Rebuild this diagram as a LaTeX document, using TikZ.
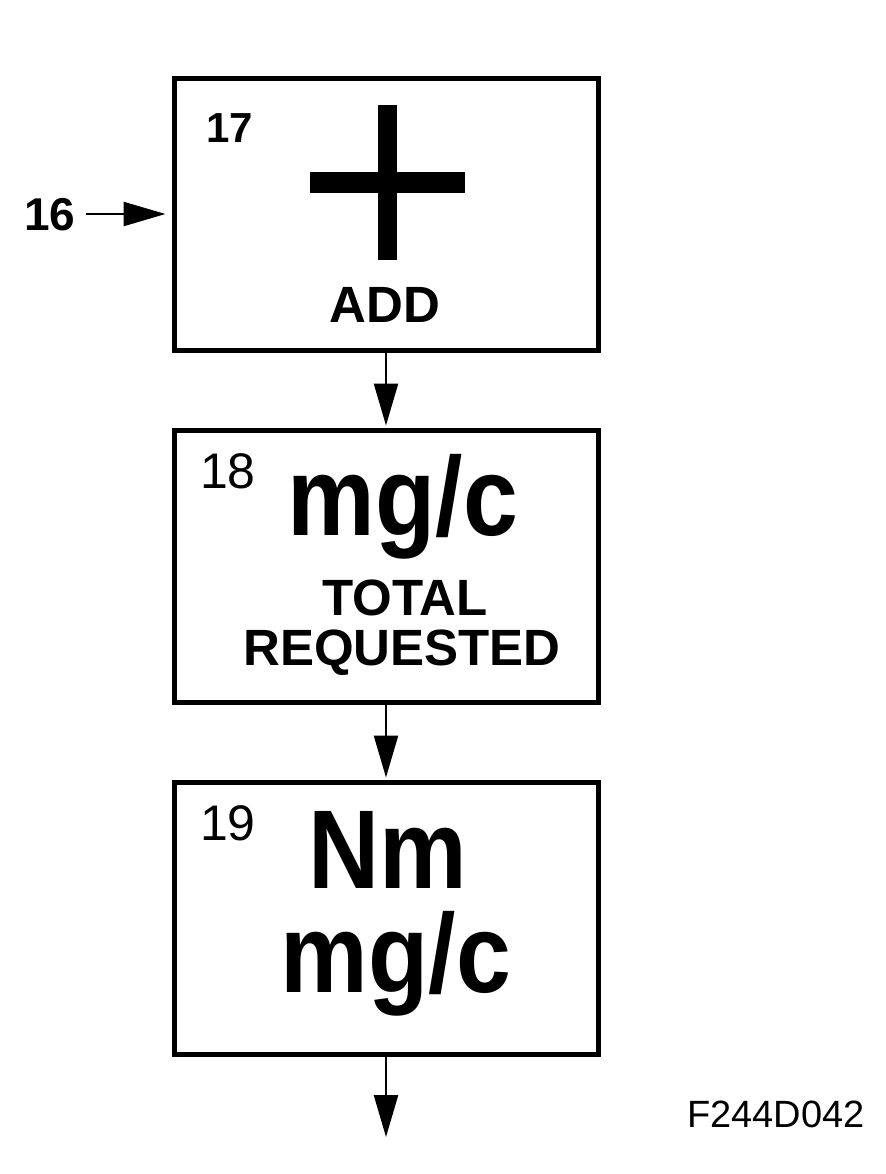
\documentclass[tikz,border=0pt]{standalone}
\usepackage{fontspec}
\setmainfont{Liberation Sans}
\newfontfamily\bigfont{Liberation Sans}[FakeStretch=0.88]
\usetikzlibrary{arrows.meta}

\begin{document}
\begin{tikzpicture}[x=0.5pt, y=-0.5pt,
  box/.style={draw, line width=2.5pt, minimum width=212pt, minimum height=136pt, inner sep=0pt},
  arr/.style={line width=1.25pt, -{Triangle[length=21pt,width=12pt]}, shorten >=1pt},
  num/.style={anchor=base, inner sep=0pt, font=\fontsize{25}{28}\selectfont},
  ref/.style={anchor=base, inner sep=0pt, font=\fontsize{23}{26}\selectfont\bfseries},
  word/.style={anchor=base, inner sep=0pt, font=\fontsize{25.5}{28}\selectfont\bfseries},
  big/.style={anchor=base, inner sep=0pt, font=\bigfont\bfseries\fontsize{56}{60}\selectfont}]

\useasboundingbox (0,0) rectangle (886,1174);

% blocks
\node [box] (add)    at (386,214) {};
\node [box] (total)  at (386,566) {};
\node [box] (torque) at (386,918) {};
\coordinate (out) at (386,1137);

% block 17
\fill (378,105) rectangle (397,260);
\fill (310,172) rectangle (465,193);
\node [ref, font=\fontsize{21}{24}\selectfont\bfseries] (n17) at (230,142) {17};
\node [word] (addlbl) at (385,322) {ADD};

% block 18
\node [num] (n18) at (228,488) {18};
\node [big] (mgc1) at (403,535) {mg/c};
\node [word] (totlbl) at (405,615) {TOTAL};
\node [word] (reqlbl) at (402,665) {REQUESTED};

% block 19
\node [num] (n19) at (228,840) {19};
\node [big] (nm) at (388,888) {Nm};
\node [big] (mgc2) at (396,992) {mg/c};

% input and figure label
\node [ref, inner sep=0pt] (in16) at (50,230) {16};
\node [num, font=\fontsize{19}{22}\selectfont] (fig) at (776,1127) {F244D042};

\draw [arr, shorten >=3pt] (in16.east |- add.west) ++(10,0) -- (add.west);
\draw [arr] (add) -- (total);
\draw [arr] (total) -- (torque);
\draw [arr, shorten >=0pt] (torque) -- (out);

\end{tikzpicture}
\end{document}
